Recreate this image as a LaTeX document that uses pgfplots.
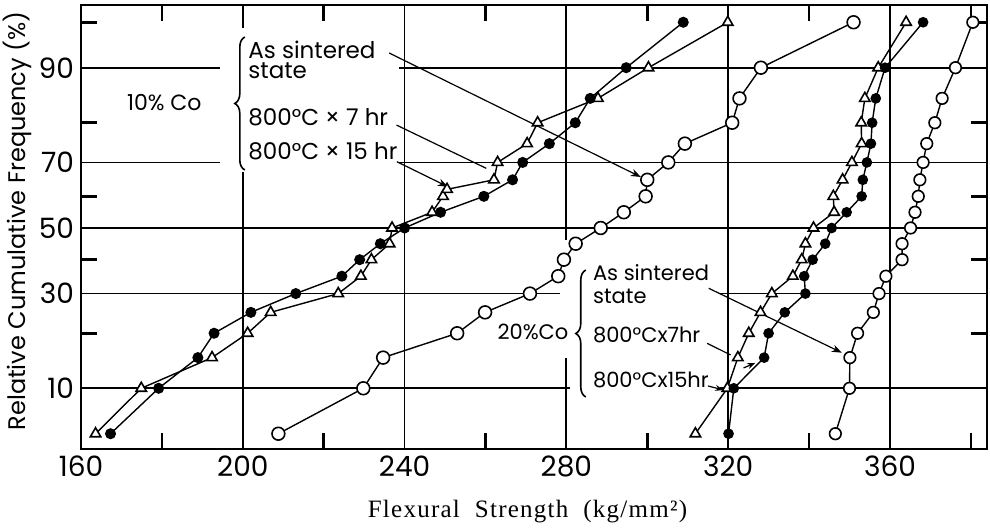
\documentclass[border=0pt]{standalone}
\usepackage{fontspec}
\setmainfont{Poppins}
\newfontfamily\seriffont[LetterSpace=5]{Liberation Serif}
\usepackage{pgfplots}
\pgfplotsset{compat=1.18}
\usepackage{pgfplotstable}
\usetikzlibrary{decorations.pathreplacing,arrows.meta}

% y column z = probit of cumulative frequency p (%)
\pgfplotstableread{
p x z
5 167.3 -1.6449
10 179.2 -1.2816
15 188.9 -1.0364
20 192.9 -0.8416
25 202.0 -0.6745
30 213.1 -0.5244
35 224.5 -0.3853
40 228.9 -0.2533
45 234.0 -0.1257
50 240.0 0
55 248.9 0.1257
60 259.6 0.2533
65 266.7 0.3853
70 269.2 0.5244
75 275.8 0.6745
80 282.2 0.8416
85 285.9 1.0364
90 294.8 1.2816
95 308.9 1.6449
}\tenFifteen

\pgfplotstableread{
p x z
5 163.6 -1.6449
10 174.9 -1.2816
15 192.4 -1.0364
20 201.2 -0.8416
25 206.9 -0.6745
30 223.6 -0.5244
35 229.2 -0.3853
40 231.8 -0.2533
45 236.3 -0.1257
50 236.9 0
55 246.8 0.1257
60 249.5 0.2533
62 250.5 0.3090
65 262.1 0.3853
70 263.0 0.5244
75 270.3 0.6745
80 272.9 0.8416
85 287.8 1.0364
90 300.3 1.2816
95 319.9 1.6449
}\tenSeven

\pgfplotstableread{
p x z
5 208.8 -1.6449
10 229.8 -1.2816
15 234.7 -1.0364
20 253.0 -0.8416
25 259.9 -0.6745
30 271.0 -0.5244
35 278.0 -0.3853
40 279.4 -0.2533
45 282.3 -0.1257
50 288.5 0
55 294.2 0.1257
60 299.6 0.2533
65 300.0 0.3853
70 305.2 0.5244
75 309.3 0.6745
80 321.0 0.8416
85 322.8 1.0364
90 328.1 1.2816
95 351.0 1.6449
}\tenSint

\pgfplotstableread{
p x z
5 311.9 -1.6449
10 319.8 -1.2816
15 322.4 -1.0364
20 325.1 -0.8416
25 328.0 -0.6745
30 330.8 -0.5244
35 336.0 -0.3853
40 338.2 -0.2533
45 339.1 -0.1257
50 341.1 0
55 346.2 0.1257
60 346.0 0.2533
65 348.3 0.3853
70 350.6 0.5244
75 353.0 0.6745
80 352.9 0.8416
85 353.8 1.0364
90 357.1 1.2816
95 364.0 1.6449
}\twentySeven

\pgfplotstableread{
p x z
5 320.1 -1.6449
10 321.4 -1.2816
15 328.9 -1.0364
20 330.0 -0.8416
25 334.0 -0.6745
30 339.1 -0.5244
35 338.8 -0.3853
40 340.9 -0.2533
45 344.0 -0.1257
50 345.6 0
55 349.3 0.1257
60 353.0 0.2533
65 353.3 0.3853
70 354.3 0.5244
75 355.3 0.6745
80 355.6 0.8416
85 356.5 1.0364
90 358.8 1.2816
95 368.2 1.6449
}\twentyFifteen

\pgfplotstableread{
p x z
5 346.5 -1.6449
10 350.0 -1.2816
15 350.1 -1.0364
20 352.0 -0.8416
25 355.9 -0.6745
30 357.3 -0.5244
35 359.0 -0.3853
40 363.0 -0.2533
45 363.0 -0.1257
50 365.1 0
55 366.2 0.1257
60 367.0 0.2533
65 367.4 0.3853
70 368.2 0.5244
75 369.1 0.6745
80 371.1 0.8416
85 372.9 1.0364
90 376.2 1.2816
95 380.5 1.6449
}\twentySint

\begin{document}
\begin{tikzpicture}
\begin{axis}[
  at={(0,0)}, anchor=south west,
  width=453pt, height=222pt, scale only axis,
  xmin=160, xmax=384, ymin=-1.767, ymax=1.783,
  clip=false,
  axis line style={line width=1.2pt},
  xtick={160,200,240,280,320,360},
  ytick={-1.2816,-0.5244,0,0.5244,1.2816},
  yticklabels={10,30,50,70,90},
  xmajorgrids, ymajorgrids,
  major grid style={black, line width=0.9pt},
  major tick length=0pt,
  tick label style={font=\fontsize{14}{14}\selectfont},
  /pgf/number format/assume math mode=true,
]
% gaps in the grid behind the labels
\fill[white] (axis cs:194.3,0.448) rectangle (axis cs:238.7,1.599);
\fill[white] (axis cs:280.9,-0.272) rectangle (axis cs:318,-1.391);
\fill[white] (axis cs:261.9,-0.719) rectangle (axis cs:281,-0.935);
\fill[white] (axis cs:278.5,-0.096) rectangle (axis cs:281,-1.039);

\addplot[black, line width=0.7pt, mark=*, mark size=3.2pt, mark options={fill=white, line width=0.8pt}] table[x=x,y=z] {\tenSint};
\addplot[black, line width=0.7pt, mark=triangle*, mark size=3pt, mark options={fill=white, line width=0.8pt}] table[x=x,y=z] {\tenSeven};
\addplot[black, line width=0.7pt, mark=*, mark size=2.4pt, mark options={fill=black}] table[x=x,y=z] {\tenFifteen};
\addplot[black, line width=0.7pt, mark=*, mark size=2.9pt, mark options={fill=white, line width=0.8pt}] table[x=x,y=z] {\twentySint};
\addplot[black, line width=0.7pt, mark=triangle*, mark size=3pt, mark options={fill=white, line width=0.8pt}] table[x=x,y=z] {\twentySeven};
\addplot[black, line width=0.7pt, mark=*, mark size=2.3pt, mark options={fill=black}] table[x=x,y=z] {\twentyFifteen};

% 10% Co annotations
\node[anchor=east, font=\fontsize{11}{11}\selectfont, inner sep=0pt] at (axis cs:189.9,0.999) {10\% Co};
\draw[line width=0.8pt, decorate, decoration={brace, amplitude=5pt}] (axis cs:200.5,0.464) -- (axis cs:200.5,1.527);
\begin{scope}[every node/.style={anchor=base west, inner sep=0pt, font=\fontsize{11.5}{11.5}\selectfont}]
\node at (axis cs:201.3,1.359) {As sintered};
\node at (axis cs:201.3,1.199) {state};
\node at (axis cs:201.3,0.823) {800°C × 7 hr};
\node at (axis cs:201.3,0.544) {800°C × 15 hr};
\end{scope}
\draw[line width=0.6pt, -{Stealth[length=5pt]}] (axis cs:236.2,1.399) -- (axis cs:298.4,0.408);
\draw[line width=0.6pt] (axis cs:238.0,0.823) -- (axis cs:260.2,0.477);
\draw[line width=0.6pt, -{Stealth[length=5pt]}] (axis cs:238.1,0.53) -- (axis cs:250.7,0.33);

% 20% Co annotations
\node[anchor=east, font=\fontsize{10.5}{10.5}\selectfont, inner sep=0pt] at (axis cs:280.6,-0.831) {20\%Co};
\draw[line width=0.8pt, decorate, decoration={brace, amplitude=5pt}] (axis cs:284.8,-1.351) -- (axis cs:284.8,-0.336);
\begin{scope}[every node/.style={anchor=base west, inner sep=0pt, font=\fontsize{10.5}{10.5}\selectfont}]
\node at (axis cs:286.5,-0.416) {As sintered};
\node at (axis cs:286.5,-0.600) {state};
\node at (axis cs:286.5,-0.919) {800°Cx7hr};
\node at (axis cs:286.5,-1.279) {800°Cx15hr};
\end{scope}
\draw[line width=0.6pt, -{Stealth[length=5pt]}] (axis cs:315.2,-0.482) -- (axis cs:348.1,-0.997);
\draw[line width=0.6pt] (axis cs:314.8,-0.922) -- (axis cs:320.6,-1.015);
\draw[line width=0.6pt, -{Stealth[length=4pt]}] (axis cs:323.8,-1.119) -- (axis cs:326.7,-1.079);
\draw[line width=0.6pt, -{Stealth[length=4pt]}] (axis cs:315.0,-1.263) -- (axis cs:318.8,-1.295);

% minor ticks (inside, on all four sides)
\draw[black, line width=1.3pt]
  (axis cs:180,-1.767) -- (axis cs:180,-1.64)  (axis cs:180,1.783) -- (axis cs:180,1.656)
  (axis cs:220,-1.767) -- (axis cs:220,-1.64)  (axis cs:220,1.783) -- (axis cs:220,1.656)
  (axis cs:260,-1.767) -- (axis cs:260,-1.64)  (axis cs:260,1.783) -- (axis cs:260,1.656)
  (axis cs:300,-1.767) -- (axis cs:300,-1.64)  (axis cs:300,1.783) -- (axis cs:300,1.656)
  (axis cs:340,-1.767) -- (axis cs:340,-1.64)  (axis cs:340,1.783) -- (axis cs:340,1.656)
  (axis cs:380,-1.767) -- (axis cs:380,-1.64)  (axis cs:380,1.783) -- (axis cs:380,1.656)
  (axis cs:160,-0.8416) -- (axis cs:164,-0.8416)  (axis cs:384,-0.8416) -- (axis cs:380,-0.8416)
  (axis cs:160,-0.2533) -- (axis cs:164,-0.2533)  (axis cs:384,-0.2533) -- (axis cs:380,-0.2533)
  (axis cs:160,0.2533) -- (axis cs:164,0.2533)    (axis cs:384,0.2533) -- (axis cs:380,0.2533)
  (axis cs:160,0.8416) -- (axis cs:164,0.8416)    (axis cs:384,0.8416) -- (axis cs:380,0.8416)
  (axis cs:160,1.6449) -- (axis cs:164,1.6449)    (axis cs:384,1.6449) -- (axis cs:380,1.6449);

% axis titles
\path (rel axis cs:0,0.5) ++(-32pt,3pt) node[rotate=90, font=\fontsize{12}{12}\selectfont] {Relative Cumulative Frequency (\%)};
\path (rel axis cs:0.5,0) ++(-3.25pt,-34.5pt) node[anchor=base] {\seriffont\fontsize{12.5}{12.5}\selectfont Flexural\ \ Strength\ \ (kg/mm²)};
\end{axis}
\pgfresetboundingbox
\path[use as bounding box] (-40.5pt,-40pt) rectangle (454.5pt,224.5pt);
\end{tikzpicture}
\end{document}
